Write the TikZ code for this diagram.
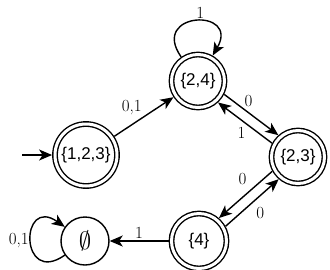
\documentclass[tikz,border=0pt]{standalone}
\usepackage{fontspec}
\newfontfamily\statefont{Liberation Sans}
\usetikzlibrary{arrows.meta}

\begin{document}
\begin{tikzpicture}[x=1pt, y=-1pt,
  plainstate/.style={circle, draw, line width=1.4pt, inner sep=0pt, font=\statefont\fontsize{17}{20}\selectfont},
  accstate/.style={plainstate, double, double distance=3pt, outer sep=2.9pt},
  lbl/.style={font=\fontsize{17}{19}\selectfont, inner sep=1.5pt},
  arrow/.style={-{Stealth[length=13pt, width=11pt, inset=3.5pt]}, line width=1.4pt},
  every loop/.style={}
]
\useasboundingbox (0,0) rectangle (330,269);
\node[accstate, minimum size=62pt] (q123) at (86,155) {\{1,2,3\}};
\node[accstate, minimum size=53pt] (q24) at (198,81) {\{2,4\}};
\node[accstate, minimum size=53pt] (q23) at (298,157) {\{2,3\}};
\node[accstate, minimum size=55pt] (q4) at (199,241) {\{4\}};
\node[plainstate, minimum size=48pt] (qe) at (85,241) {\fontsize{26}{28}\selectfont$\emptyset$};
\coordinate (start) at (22,155);
\draw[arrow] (start) -- (q123);
\draw[arrow] (q123) -- node[lbl, above left] {0,1} (q24);
\draw (q24) edge[loop, arrow, out=125, in=60, looseness=4.5] node[lbl, above, xshift=5pt] {1} (q24);
\draw[arrow] (q24.-27.6) -- node[lbl, above=4pt, pos=0.45] {0} (q23.132.4);
\draw[arrow] (q23.152.4) -- node[lbl, below left, pos=0.45] {1} (q24.-47.6);
\draw[arrow] (q23.209.6) -- node[lbl, above=8pt, xshift=-3pt] {0} (q4.49.6);
\draw[arrow] (q4.29.6) -- node[lbl, below right=2pt] {0} (q23.229.6);
\draw[arrow] (q4) -- node[lbl, above] {1} (qe);
\draw (qe) edge[loop, arrow, out=215, in=145, looseness=5] node[lbl, left] {0,1} (qe);
\end{tikzpicture}
\end{document}
